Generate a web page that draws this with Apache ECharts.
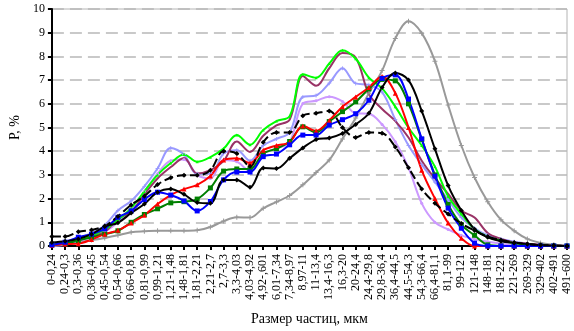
<!DOCTYPE html>
<html><head><meta charset="utf-8">
<script src="https://cdn.jsdelivr.net/npm/echarts@6/dist/echarts.min.js"></script>
<style>html,body{margin:0;padding:0;background:#fff}#c{width:574px;height:331px}</style>
</head><body><div id="c"></div>
<script>
var categories = ["0-0,24","0,24-0,3","0,3-0,36","0,36-0,45","0,45-0,54","0,54-0,66","0,66-0,81","0,81-0,99","0,99-1,21","1,21-1,48","1,48-1,81","1,81-2,21","2,21-2,7","2,7-3,3","3,3-4,03","4,03-4,92","4,92-,601","6,01-7,34","7,34-8,97","8,97-11","11-13,4","13,4-16,3","16,3-20","20-24,4","24,4-29,8","29,8-36,4","36,4-44,5","44,5-54,3","54,3-66,4","66,4-81,1","81,1-99","99-121","121-148","148-181","181-221","221-269","269-329","329-402","402-491","491-600"];
var yTicks = [0,1,2,3,4,5,6,7,8,9,10];
var gray = [0.07,0.1,0.18,0.25,0.34,0.45,0.58,0.62,0.64,0.64,0.64,0.66,0.8,1.05,1.21,1.2,1.59,1.86,2.13,2.58,3.1,3.63,4.52,5.4,6.45,7.4,8.76,9.48,8.98,7.8,5.95,4.24,2.89,1.87,1.11,0.64,0.3,0.13,0.05,0.0];
var blackDashed = [0.4,0.4,0.6,0.68,0.84,1.25,1.73,2.1,2.59,2.88,2.98,2.98,3.2,4.0,3.9,3.36,4.38,4.79,4.79,5.5,5.6,5.7,5.0,4.58,4.79,4.76,4.18,3.3,2.41,1.8,1.35,0.95,0.65,0.4,0.25,0.15,0.08,0.04,0.02,0];
var blackSolid = [0.15,0.2,0.3,0.5,0.82,0.98,1.39,1.77,2.27,2.41,2.18,1.84,1.8,2.79,2.79,2.48,3.29,3.27,3.7,4.14,4.49,4.56,4.75,5.13,5.6,6.69,7.3,7.0,5.7,4.1,2.55,1.5,0.71,0.37,0.2,0.13,0.08,0.04,0.02,0];
var blue = [0.05,0.16,0.37,0.5,0.73,1.21,1.48,1.96,2.27,2.15,1.9,1.48,1.88,2.79,3.12,3.12,3.77,3.88,4.27,4.68,4.68,5.1,5.33,5.58,6.15,7.07,7.22,6.2,4.52,2.95,1.6,0.75,0.12,0,0,0,0,0,0,0];
var darkGreen = [0.05,0.1,0.23,0.37,0.5,0.64,1.0,1.33,1.57,1.82,1.87,1.98,2.45,3.16,3.25,3.25,3.9,4.11,4.41,5.03,4.79,5.25,5.67,6.08,6.63,7.03,6.97,6.0,4.5,3.0,1.75,0.9,0.45,0.05,0,0,0,0,0,0];
var red = [0.03,0.08,0.1,0.27,0.5,0.66,0.97,1.3,1.77,2.15,2.4,2.58,2.95,3.63,3.7,3.5,4.04,4.24,4.38,5.06,4.86,5.3,5.88,6.29,6.69,7.15,6.45,5.0,3.2,2.0,0.97,0.33,0,0,0,0,0,0,0,0];
var brightGreen = [0.03,0.15,0.3,0.44,0.7,1.1,1.6,2.3,3.0,3.5,3.86,3.55,3.75,4.11,4.68,4.27,4.89,5.27,5.47,7.25,7.1,7.7,8.26,7.9,7.1,6.65,5.88,4.99,4.24,3.35,2.1,1.35,0.72,0.38,0.23,0.12,0.06,0.02,0,0];
var maroon = [0.02,0.1,0.25,0.4,0.6,1.15,1.45,2.18,2.85,3.33,3.71,3.06,3.2,3.59,4.41,3.97,4.65,5.09,5.33,7.17,6.76,7.5,8.14,7.95,6.4,5.78,5.27,4.58,3.6,2.85,2.2,1.5,1.2,0.55,0.3,0.15,0.1,0.05,0.02,0];
var periwinkle = [0.07,0.2,0.34,0.54,0.88,1.5,1.9,2.52,3.27,4.13,3.86,3.05,3.05,3.9,4.04,3.6,4.24,4.52,4.79,6.29,6.35,6.87,7.5,6.86,6.8,6.49,5.33,4.24,3.43,2.7,1.95,1.2,0.75,0.45,0.3,0.18,0.1,0.04,0.02,0];
var lavender = [0.0,0.05,0.2,0.38,0.6,1.0,1.6,2.3,3.05,3.6,3.65,3.0,2.85,3.63,3.56,3.16,3.9,4.11,4.38,6.01,6.13,6.3,6.1,5.6,5.58,5.13,4.4,3.3,1.8,1.0,0.7,0.45,0.28,0.18,0.1,0.05,0,0,0,0];

var FONT = "'Liberation Serif','Times New Roman',serif";
var PLUS = 'path://M4,0H6V4H10V6H6V10H4V6H0V4H4Z';
function S(name, data, color, symbol, size, dashed, width) {
  return {
    name: name, type: 'line', data: data, smooth: 0.35,
    symbol: symbol, symbolSize: size, showSymbol: symbol !== 'none',
    lineStyle: { color: color, width: width || 2, type: dashed ? [9, 4] : 'solid' },
    itemStyle: { color: color, borderWidth: 0 },
    emphasis: { disabled: true }, animation: false
  };
}
var chart = echarts.init(document.getElementById('c'), null, { renderer: 'canvas' });
chart.setOption({
  animation: false,
  grid: { left: 37, right: 7, top: 9, bottom: 77, show: true, borderColor: '#b4b4b4', borderWidth: 1 },
  xAxis: {
    type: 'category', data: categories, boundaryGap: false,
    name: 'Размер частиц, мкм', nameLocation: 'middle', nameGap: 66,
    nameTextStyle: { fontFamily: FONT, fontSize: 14, color: '#000' },
    axisLine: { lineStyle: { color: '#000', width: 2 } },
    axisTick: { show: true, inside: false, length: 4, interval: 0, lineStyle: { color: '#000', width: 2 } },
    axisLabel: { interval: 0, rotate: 90, margin: 8, fontFamily: FONT, fontSize: 12, color: '#000' },
    splitLine: { show: false }
  },
  yAxis: {
    type: 'value', min: yTicks[0], max: yTicks[yTicks.length - 1], interval: 1,
    name: 'P, %', nameLocation: 'middle', nameGap: 20, nameRotate: 90,
    nameTextStyle: { fontFamily: FONT, fontSize: 14, color: '#000' },
    axisLine: { show: true, lineStyle: { color: '#000', width: 2 } },
    axisTick: { show: true, inside: false, length: 4, lineStyle: { color: '#000', width: 2 } },
    axisLabel: { margin: 7, fontFamily: FONT, fontSize: 12, color: '#000' },
    splitLine: { show: true, lineStyle: { color: '#b8b8b8', width: 1.5, type: [12, 6] } }
  },
  series: [
    S('gray', gray, '#999999', PLUS, 5),
    S('lavender', lavender, '#cc99ff', 'circle', 3),
    S('periwinkle', periwinkle, '#9999ff', PLUS, 4),
    S('maroon', maroon, '#993366', 'none', 0),
    S('brightGreen', brightGreen, '#00ff00', 'triangle', 3),
    S('darkGreen', darkGreen, '#008000', 'rect', 5),
    S('red', red, '#ff0000', 'triangle', 5),
    S('blue', blue, '#0000ff', 'rect', 5),
    S('blackSolid', blackSolid, '#000000', 'diamond', 5),
    S('blackDashed', blackDashed, '#000000', 'diamond', 5, true)
  ]
});
</script></body></html>
